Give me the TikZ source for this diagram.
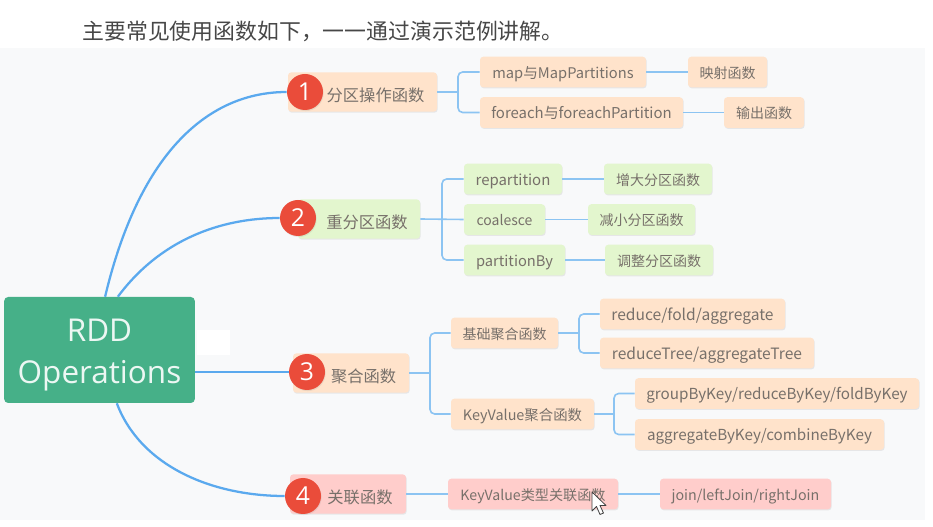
\documentclass[tikz,border=0pt]{standalone}
\usepackage{fontspec}
\setmainfont{Noto Sans CJK SC}
\newfontfamily\rootfont{Open Sans}
\usetikzlibrary{shadows}

\definecolor{panelbg}{HTML}{F8F9FA}
\definecolor{rootgreen}{HTML}{46B088}
\definecolor{peach}{HTML}{FFE3CB}
\definecolor{leafgreen}{HTML}{E3F6CE}
\definecolor{rose}{HTML}{FFCDCB}
\definecolor{badgered}{HTML}{EA4C3A}
\definecolor{trunkblue}{HTML}{5AA9EE}
\definecolor{branchblue}{HTML}{8CC4F2}
\definecolor{labelgray}{HTML}{77706A}

\begin{document}
\begin{tikzpicture}[
x=0.75pt,
y=-0.75pt,
softshadow/.style={
drop shadow={shadow xshift=0.5pt,shadow yshift=-0.8pt,opacity=0.15}
},
boxbase/.style={
rounded corners=2.5pt,
inner sep=0pt,
minimum width=#1*0.75pt,
minimum height=23pt,
text height=10pt,
text depth=0.5pt,
text=labelgray,
font=\fontsize{10.5}{12}\selectfont,
softshadow
},
peachbox/.style={boxbase=#1,fill=peach},
greenbox/.style={boxbase=#1,fill=leafgreen},
rosebox/.style={boxbase=#1,fill=rose},
sized/.style={font=\fontsize{#1}{12}\selectfont},
topic/.style={
minimum height=29.5pt,
text height=15pt,
font=\fontsize{12.2}{14}\selectfont
},
badge/.style={
circle,
fill=badgered,
text=white,
inner sep=0pt,
minimum size=27pt,
font=\rootfont\fontsize{18.5}{20}\selectfont,
softshadow
},
trunk/.style={draw=trunkblue,line width=1.7pt},
branch/.style={draw=branchblue,line width=1.2pt,rounded corners=3.5pt}
]

\useasboundingbox (0,0) rectangle (933,527);

% panel behind the map
\fill[panelbg] (0,48) rectangle (925,520);
\fill[white] (197,330) rectangle (230,355);

\node (title)
at (323,31)
{\fontsize{16.4}{18}\selectfont\color{black!72}主要常见使用函数如下，一一通过演示范例讲解。};

\node (root)
at (99.5,350)
[fill=rootgreen,
rounded corners=3pt,
minimum width=143pt,
minimum height=79.5pt,
inner sep=0pt,
align=center,
text=white!90!rootgreen,
font=\rootfont\fontsize{23.6}{31.5}\selectfont]
{\rule{0pt}{24pt}RDD\\Operations};

% first level
\node (part)
at (362.5,92)
[peachbox=149,topic]
{\hspace*{19.5pt}分区操作函数};

\node (repart)
at (359,219)
[greenbox=122,topic]
{\hspace*{12pt}重分区函数};

\node (agg)
at (351,373)
[peachbox=116,topic]
{\hspace*{19pt}聚合函数};

\node (assoc)
at (348,494)
[rosebox=116,topic]
{\hspace*{18pt}关联函数};

\node (n1)
at (305,92)
[badge]
{1};

\node (n2)
at (298,218)
[badge]
{2};

\node (n3)
at (307,372)
[badge]
{3};

\node (n4)
at (303,496)
[badge]
{4};

% partition operations
\node (map)
at (563,72)
[peachbox=166,sized=11]
{map与MapPartitions};

\node (mapf)
at (727.5,72)
[peachbox=79]
{映射函数};

\node (each)
at (581.5,112.5)
[peachbox=203,sized=11.2]
{foreach与foreachPartition};

\node (eachf)
at (764,112.5)
[peachbox=80]
{输出函数};

% repartition
\node (rep)
at (513,179)
[greenbox=98,sized=11.2]
{repartition};

\node (repf)
at (658,179)
[greenbox=108]
{增大分区函数};

\node (coal)
at (504.5,219.5)
[greenbox=81]
{coalesce};

\node (coalf)
at (641.5,219.5)
[greenbox=107]
{减小分区函数};

\node (pby)
at (514.5,260)
[greenbox=101,sized=11]
{partitionBy};

\node (pbyf)
at (659,260)
[greenbox=108]
{调整分区函数};

% aggregation
\node (basic)
at (504.5,333)
[peachbox=107]
{基础聚合函数};

\node (kvagg)
at (522.5,414)
[peachbox=143,sized=10.8]
{KeyValue聚合函数};

\node (fold)
at (692.5,314)
[peachbox=185,sized=11.7]
{reduce/fold/aggregate};

\node (tree)
at (707,353)
[peachbox=214,sized=11.7]
{reduceTree/aggregateTree};

\node (gbk)
at (777,393.5)
[peachbox=284,sized=11.4]
{groupByKey/reduceByKey/foldByKey};

\node (abk)
at (759.5,434.5)
[peachbox=249,sized=11.4]
{aggregateByKey/combineByKey};

% joins
\node (kvjoin)
at (533,494)
[rosebox=170,sized=10.6]
{KeyValue类型关联函数};

\node (join)
at (745.5,494)
[rosebox=171,sized=10.7]
{join/leftJoin/rightJoin};

\coordinate (f1) at (458,92);
\coordinate (f2) at (442,219);
\coordinate (f3) at (430,373);
\coordinate (f4) at (579,333);
\coordinate (f5) at (614,414);

% curves out of the root
\draw[trunk] (root.84) .. controls (140,150) and (210,92) .. (n1.west);
\draw[trunk] (root.71) .. controls (160,240) and (220,218) .. (n2.west);
\draw[trunk] (root.east |- n3) -- (n3.west);
\draw[trunk] (root.-72) .. controls (140,465) and (210,496) .. (n4.west);

\draw[branch] (part.east) -- (f1);
\draw[branch] (f1) |- (map.west);
\draw[branch] (f1) |- (each.west);
\draw[branch] (map) -- (mapf);
\draw[branch] (each) -- (eachf);

\draw[branch] (repart.east) -- (coal.west);
\draw[branch] (f2) |- (rep.west);
\draw[branch] (f2) |- (pby.west);
\draw[branch] (rep) -- (repf);
\draw[branch] (coal) -- (coalf);
\draw[branch] (pby) -- (pbyf);

\draw[branch] (agg.east) -- (f3);
\draw[branch] (f3) |- (basic.west);
\draw[branch] (f3) |- (kvagg.west);
\draw[branch] (basic.east) -- (f4);
\draw[branch] (f4) |- (fold.west);
\draw[branch] (f4) |- (tree.west);
\draw[branch] (kvagg.east) -- (f5);
\draw[branch] (f5) |- (gbk.west);
\draw[branch] (f5) |- (abk.west);

\draw[branch] (assoc) -- (kvjoin);
\draw[branch] (kvjoin) -- (join);

% mouse pointer
\draw[black!75,fill=white,line width=0.6pt,line join=round]
(592,492) -- (592,511) -- (596.5,506.5) -- (600,514.5) -- (603.5,513) -- (600,505.5) -- (606,505.5) -- cycle;

\end{tikzpicture}
\end{document}
